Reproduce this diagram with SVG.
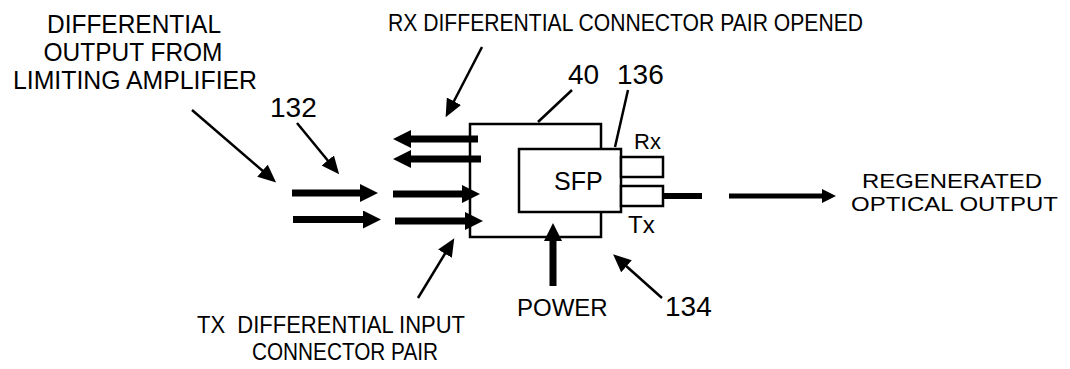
<svg xmlns="http://www.w3.org/2000/svg" width="1070" height="369" viewBox="0 0 1070 369">
<style>
text{font-family:"Liberation Sans",Arial,sans-serif;font-size:24px;fill:#000}
.num{font-size:28px}
.box{fill:#fff;stroke:#000;stroke-width:2.5}
.thick{stroke:#000;stroke-width:7;fill:none}
.thin{stroke:#000;stroke-width:2.5;fill:none}
.out{stroke:#000;stroke-width:5;fill:none}
</style>
<defs>
<marker id="hBig" markerUnits="userSpaceOnUse" markerWidth="20" markerHeight="20" refX="1" refY="9" orient="auto" viewBox="0 0 20 20"><path d="M0,0 L18,9 L0,18 z" fill="#000"/></marker>
<marker id="hThin" markerUnits="userSpaceOnUse" markerWidth="20" markerHeight="18" refX="2" refY="8" orient="auto" viewBox="0 0 20 18"><path d="M0,0 L18,8 L0,16 z" fill="#000"/></marker>
<marker id="hOut" markerUnits="userSpaceOnUse" markerWidth="16" markerHeight="16" refX="1" refY="7" orient="auto" viewBox="0 0 16 16"><path d="M0,0 L14,7 L0,14 z" fill="#000"/></marker>
</defs>

<g id="module40">
<rect class="box" x="470" y="124" width="131" height="113"/>
</g>
<g id="sfp136">
<rect class="box" x="519" y="149" width="102" height="63"/>
<text x="554" y="190" style="font-size:25px">SFP</text>
</g>
<g id="rxport">
<rect class="box" x="621" y="157" width="42" height="20"/>
<text x="634" y="149" style="font-size:22px">Rx</text>
</g>
<g id="txport">
<rect class="box" x="621" y="186" width="42" height="20"/>
<text x="628" y="233">Tx</text>
</g>

<g id="connectors">
<line class="thick" x1="292" y1="193" x2="361" y2="193" marker-end="url(#hBig)"/>
<line class="thick" x1="293" y1="219.5" x2="364" y2="219.5" marker-end="url(#hBig)"/>
<line class="thick" x1="393" y1="194" x2="463" y2="194" marker-end="url(#hBig)"/>
<line class="thick" x1="395" y1="221" x2="466" y2="221" marker-end="url(#hBig)"/>
<line class="thick" x1="478" y1="139" x2="410" y2="139" marker-end="url(#hBig)"/>
<line class="thick" x1="481" y1="159" x2="410" y2="159" marker-end="url(#hBig)"/>
<line class="thick" x1="553" y1="286" x2="553" y2="240" marker-end="url(#hBig)"/>
<line class="out" x1="663" y1="196" x2="702" y2="196" style="stroke-width:6"/>
<line class="out" x1="729" y1="196" x2="823" y2="196" marker-end="url(#hOut)"/>
<line class="thin" x1="192" y1="110" x2="264" y2="172" marker-end="url(#hThin)"/>
<line class="thin" x1="297" y1="123" x2="329" y2="162" marker-end="url(#hThin)"/>
<line class="thin" x1="482" y1="47" x2="453" y2="103" marker-end="url(#hThin)"/>
<line class="thin" x1="418" y1="298" x2="446" y2="252" marker-end="url(#hThin)"/>
<line class="thin" x1="662" y1="298" x2="625" y2="265" marker-end="url(#hThin)"/>
<line class="thin" x1="538" y1="122" x2="572" y2="90"/>
<line class="thin" x1="615" y1="147" x2="628" y2="90"/>
</g>

<g id="labels">
<text x="134" y="33" text-anchor="middle" style="font-size:26px" textLength="174" lengthAdjust="spacingAndGlyphs">DIFFERENTIAL</text>
<text x="133" y="61" text-anchor="middle" style="font-size:26px" textLength="179" lengthAdjust="spacingAndGlyphs">OUTPUT FROM</text>
<text x="135" y="89" text-anchor="middle" style="font-size:26px" textLength="244" lengthAdjust="spacingAndGlyphs">LIMITING AMPLIFIER</text>
<text x="388" y="31" style="font-size:24px" textLength="475" lengthAdjust="spacingAndGlyphs">RX DIFFERENTIAL CONNECTOR PAIR OPENED</text>
<text class="num" x="270" y="117">132</text>
<text class="num" x="568" y="84">40</text>
<text class="num" x="617" y="84">136</text>
<text class="num" x="665" y="316">134</text>
<text x="517" y="316">POWER</text>
<text x="862" y="188" style="font-size:21px" textLength="180" lengthAdjust="spacingAndGlyphs">REGENERATED</text>
<text x="851" y="211" style="font-size:21px" textLength="207" lengthAdjust="spacingAndGlyphs">OPTICAL OUTPUT</text>
<text x="197" y="333" xml:space="preserve" style="font-size:24px" textLength="268" lengthAdjust="spacingAndGlyphs">TX  DIFFERENTIAL INPUT</text>
<text x="252" y="360" style="font-size:24px" textLength="186" lengthAdjust="spacingAndGlyphs">CONNECTOR PAIR</text>
</g>
</svg>
